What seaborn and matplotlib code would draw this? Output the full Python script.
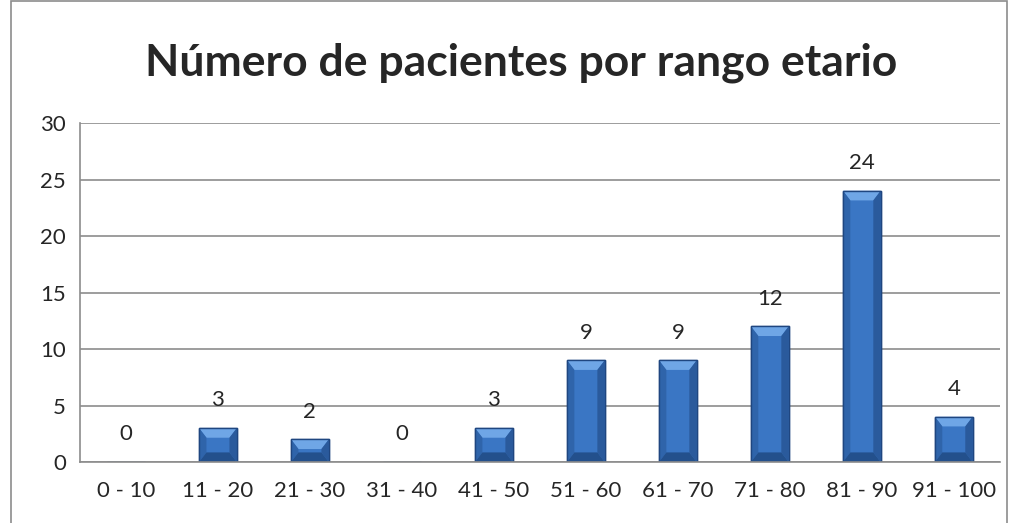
import matplotlib
matplotlib.use("Agg")
import matplotlib.pyplot as plt
import seaborn as sns
import pandas as pd
from matplotlib.patches import Rectangle, Polygon
from matplotlib.ticker import FixedLocator

# datos del grafico
rangos = ["0 - 10", "11 - 20", "21 - 30", "31 - 40", "41 - 50",
          "51 - 60", "61 - 70", "71 - 80", "81 - 90", "91 - 100"]
pacientes = [0, 3, 2, 0, 3, 9, 9, 12, 24, 4]
titulo = "Número de pacientes por rango etario"

df = pd.DataFrame({"rango": rangos, "n": pacientes})

sns.set_style("white")
plt.rcParams["font.family"] = ["Lato", "DejaVu Sans"]

fig = plt.figure(figsize=(10.15, 5.23), dpi=100)
ax = fig.add_axes([0.0788, 0.1166, 0.9062, 0.6482])

sns.barplot(data=df, x="rango", y="n", color="#3a76c4", width=0.41,
            edgecolor="#1f4680", linewidth=1.0, saturation=1, ax=ax)

ax.set_ylim(0, 30)
ax.set_xlim(-0.5, len(rangos) - 0.5)
ax.set_yticks(range(0, 31, 5))
ax.yaxis.grid(True, color="#8c8c8c", linewidth=1.2)
ax.set_axisbelow(True)
ax.set_xlabel("")
ax.set_ylabel("")

# efecto bisel sobre las barras que dibujo seaborn
bx, by = 0.08, 0.85
for p in list(ax.patches):
    x0, y0 = p.get_x(), p.get_y()
    x1, y1 = x0 + p.get_width(), y0 + p.get_height()
    if y1 - y0 <= 0:
        continue
    caras = [
        ([(x0, y1), (x1, y1), (x1 - bx, y1 - by), (x0 + bx, y1 - by)], "#6fa6e6"),
        ([(x0, y0), (x0, y1), (x0 + bx, y1 - by), (x0 + bx, y0 + by)], "#2f64aa"),
        ([(x1, y0), (x1, y1), (x1 - bx, y1 - by), (x1 - bx, y0 + by)], "#2a5a9c"),
        ([(x0, y0), (x1, y0), (x1 - bx, y0 + by), (x0 + bx, y0 + by)], "#23508c"),
    ]
    for pts, c in caras:
        ax.add_patch(Polygon(pts, closed=True, facecolor=c, edgecolor="none", zorder=p.get_zorder() + 0.1))
    ax.add_patch(Rectangle((x0, y0), x1 - x0, y1 - y0, fill=False,
                           edgecolor="#1f4680", linewidth=1.0, zorder=p.get_zorder() + 0.2))

for s in ["top", "right"]:
    ax.spines[s].set_visible(False)
for s in ["left", "bottom"]:
    ax.spines[s].set_color("#8c8c8c")
    ax.spines[s].set_linewidth(1.2)

ax.tick_params(axis="y", length=6, color="#8c8c8c", width=1.2, labelsize=16, pad=4)
ax.tick_params(axis="x", which="major", length=0, labelsize=16, pad=14)
ax.xaxis.set_minor_locator(FixedLocator([i + 0.5 for i in range(len(rangos))]))
ax.tick_params(axis="x", which="minor", length=6, color="#8c8c8c", width=1.2)

for i, v in enumerate(pacientes):
    ax.annotate(str(v), (i, v), xytext=(0, 20), textcoords="offset points",
                ha="center", va="center", fontsize=16)

fig.text(0.513, 0.88, titulo, ha="center", va="center",
         fontsize=32, fontweight="bold")

fig.patches.append(Rectangle((0.0105, -0.01), 0.982, 1.008, transform=fig.transFigure,
                             fill=False, edgecolor="#8c8c8c", linewidth=1.2))

fig.savefig("out.png", dpi=100)
